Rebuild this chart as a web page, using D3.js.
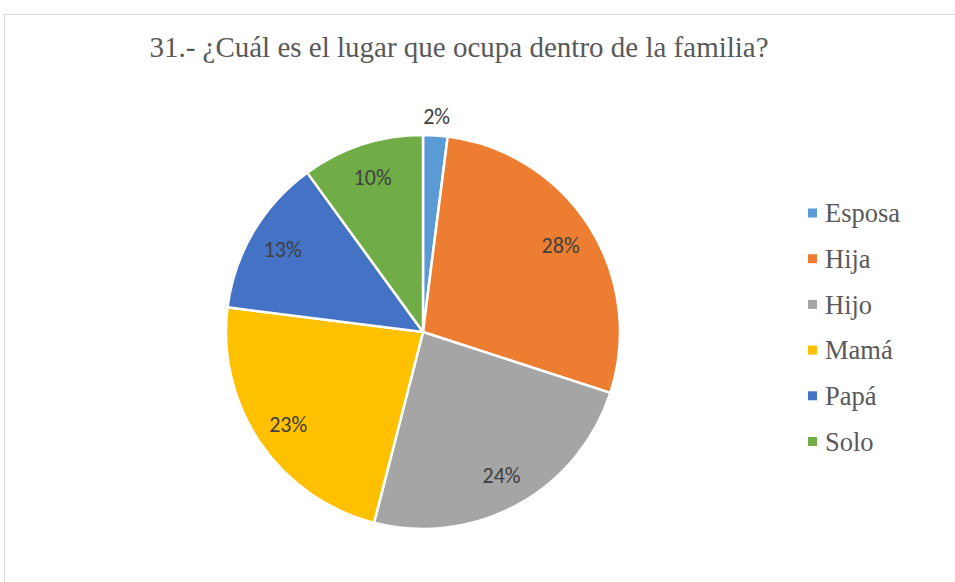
<!DOCTYPE html>
<html>
<head>
<meta charset="utf-8">
<script src="https://cdn.jsdelivr.net/npm/d3@7"></script>
<style>
  html, body { margin: 0; padding: 0; background: #fff; }
  svg { display: block; }
</style>
</head>
<body>
<svg id="chart" width="955" height="582"></svg>
<script>
const categories = ["Esposa", "Hija", "Hijo", "Mamá", "Papá", "Solo"];
const values = [2, 28, 24, 23, 13, 10];
const colors = ["#5b9bd5", "#ed7d31", "#a5a5a5", "#ffc000", "#4472c4", "#70ad47"];
const title = "31.- ¿Cuál es el lugar que ocupa dentro de la familia?";

const svg = d3.select("#chart");

// chart frame
svg.append("path")
  .attr("d", "M4.5,582 V14.5 H955")
  .attr("fill", "none")
  .attr("stroke", "#d9d9d9")
  .attr("stroke-width", 1);

svg.append("text")
  .attr("x", 459)
  .attr("y", 57)
  .attr("text-anchor", "middle")
  .attr("font-family", "'Liberation Serif', 'Times New Roman', serif")
  .attr("font-size", 29)
  .attr("fill", "#595959")
  .text(title);

const cx = 423, cy = 332, r = 197;
const color = d3.scaleOrdinal().domain(categories).range(colors);

const data = categories.map((c, i) => ({ name: c, value: values[i] }));
const pie = d3.pie().value(d => d.value).sort(null);
const arcs = pie(data);
const arc = d3.arc().innerRadius(0).outerRadius(r);
const labelArc = d3.arc().innerRadius(163).outerRadius(163);
const outerLabelArc = d3.arc().innerRadius(217).outerRadius(217);

const g = svg.append("g").attr("transform", `translate(${cx},${cy})`);

g.selectAll("path.slice")
  .data(arcs)
  .join("path")
  .attr("class", "slice")
  .attr("d", arc)
  .attr("fill", d => color(d.data.name))
  .attr("stroke", "#fff")
  .attr("stroke-width", 2.5)
  .attr("stroke-linejoin", "round");

g.selectAll("text.lbl")
  .data(arcs)
  .join("text")
  .attr("class", "lbl")
  .attr("transform", d => {
    const p = (d.data.value < 5 ? outerLabelArc : labelArc).centroid(d);
    return `translate(${p[0]},${p[1]})`;
  })
  .attr("text-anchor", "middle")
  .attr("dy", "0.38em")
  .attr("font-family", "Carlito, Lato, 'Open Sans', sans-serif")
  .attr("font-size", 22)
  .attr("fill", "#404040")
  .text(d => d.data.value + "%");

// legend
const legend = svg.append("g").attr("transform", "translate(808,213)");
const items = legend.selectAll("g")
  .data(categories)
  .join("g")
  .attr("transform", (d, i) => `translate(0,${i * 45.7})`);

items.append("rect")
  .attr("x", 0)
  .attr("y", -4.5)
  .attr("width", 9)
  .attr("height", 9)
  .attr("fill", d => color(d));

items.append("text")
  .attr("x", 17)
  .attr("y", 0)
  .attr("dy", "0.35em")
  .attr("font-family", "'Liberation Serif', 'Times New Roman', serif")
  .attr("font-size", 26.5)
  .attr("fill", "#595959")
  .text(d => d);
</script>
</body>
</html>
